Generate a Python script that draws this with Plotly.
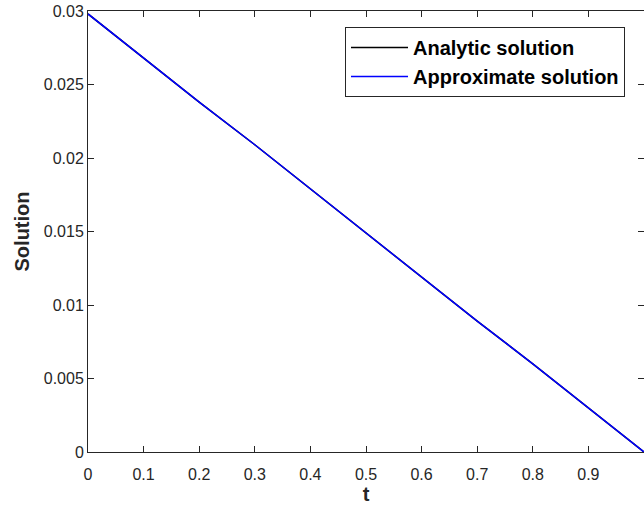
import plotly.graph_objects as go

t_values = [0, 0.1, 0.2, 0.3, 0.4, 0.5, 0.6, 0.7, 0.8, 0.9, 1.0]
analytic = [0.0298, 0.0268, 0.0238, 0.0209, 0.0179, 0.0149, 0.0119, 0.0089, 0.0060, 0.0030, 0.0]
approximate = [0.0298, 0.0268, 0.0238, 0.0209, 0.0179, 0.0149, 0.0119, 0.0089, 0.0060, 0.0030, 0.0]

x_ticks = [0, 0.1, 0.2, 0.3, 0.4, 0.5, 0.6, 0.7, 0.8, 0.9, 1]
x_tick_labels = ["0", "0.1", "0.2", "0.3", "0.4", "0.5", "0.6", "0.7", "0.8", "0.9", "1"]
y_ticks = [0, 0.005, 0.01, 0.015, 0.02, 0.025, 0.03]
y_tick_labels = ["0", "0.005", "0.01", "0.015", "0.02", "0.025", "0.03"]

FONT = "Liberation Sans, Arial, Helvetica"

fig = go.Figure()
fig.add_trace(go.Scatter(x=t_values, y=analytic, mode="lines", name="<b>Analytic solution</b>",
                         line=dict(color="black", width=1.5)))
fig.add_trace(go.Scatter(x=t_values, y=approximate, mode="lines", name="<b>Approximate solution</b>",
                         line=dict(color="#0000ff", width=1.5)))

axis_common = dict(showline=True, linecolor="#262626", linewidth=1, mirror="ticks",
                   ticks="inside", ticklen=6, tickcolor="#262626", showgrid=False,
                   zeroline=False, automargin=False,
                   tickfont=dict(family=FONT, size=16, color="#262626"))

fig.update_layout(
    width=644, height=510,
    margin=dict(l=88, r=0, t=11, b=58),
    paper_bgcolor="white", plot_bgcolor="white",
    font=dict(family=FONT, color="#262626"),
    xaxis=dict(range=[0, 1], tickvals=x_ticks, ticktext=x_tick_labels, ticklabelstandoff=8,
               title=dict(text="<b>t</b>", font=dict(size=20, color="#262626"), standoff=3),
               **axis_common),
    yaxis=dict(range=[0, 0.03], tickvals=y_ticks, ticktext=y_tick_labels,
               title=dict(text="<b>Solution</b>", font=dict(size=20, color="#262626"), standoff=8),
               **axis_common),
    legend=dict(x=(345 - 88) / 556, y=(452 - 27) / 441, xanchor="left", yanchor="top",
                bgcolor="white", bordercolor="#262626", borderwidth=1,
                font=dict(family=FONT, size=20, color="black"),
                tracegroupgap=0, itemwidth=57),
    showlegend=True,
)

# remove the page's default body margin so the figure fills the window exactly
fig.write_html("out.html", config={"displayModeBar": False},
               post_script="document.body.style.margin='0';document.body.style.overflow='hidden';")
